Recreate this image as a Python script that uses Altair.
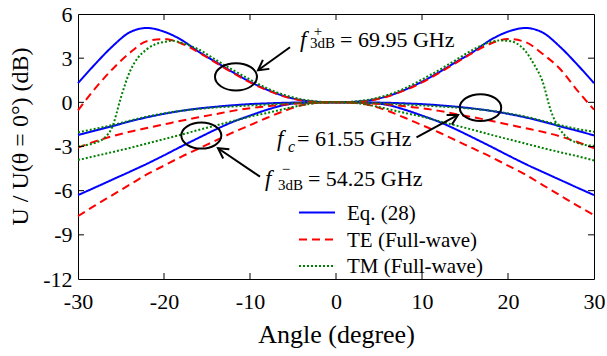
import altair as alt
import pandas as pd

# ---------------- data ----------------
ANGLES = [-30, -28, -26, -24, -22, -20, -18, -16, -14, -12, -10, -8, -6, -4, -2, 0,
          2, 4, 6, 8, 10, 12, 14, 16, 18, 20, 22, 24, 26, 28, 30]

# f+3dB = 69.95 GHz
EQ_UP = [1.3, 2.6, 3.8, 4.75, 5.05, 4.8, 4.25, 3.45, 2.75, 2.05, 1.4, 0.85, 0.42, 0.15, 0.03, 0,
         0.03, 0.15, 0.42, 0.85, 1.4, 2.05, 2.75, 3.45, 4.25, 4.8, 5.05, 4.75, 3.8, 2.6, 1.3]
TE_UP = [-0.55, 0.95, 2.25, 3.35, 4.15, 4.3, 4.0, 3.4, 2.7, 2.0, 1.35, 0.82, 0.4, 0.13, 0.02, 0,
         0.02, 0.13, 0.4, 0.82, 1.35, 2.0, 2.7, 3.4, 4.0, 4.3, 4.1, 3.3, 2.3, 0.85, -0.5]
TM_UP_ANGLES = [-30, -29, -28, -27, -26, -25, -24, -23, -22, -21, -20, -19, -18, -16, -14, -12,
                -10, -8, -6, -4, -2, 0, 2, 4, 6, 8, 10, 12, 14, 16, 18, 19, 20, 21, 22, 23, 24,
                25, 26, 27, 28, 29, 30]
TM_UP = [-3.0, -2.9, -2.75, -2.45, -1.65, 0.35, 2.05, 3.05, 3.6, 3.95, 4.1, 4.18, 4.05, 3.6, 2.9, 2.2,
         1.55, 0.95, 0.5, 0.2, 0.05, 0, 0.05, 0.2, 0.5, 0.95, 1.55, 2.2, 2.9, 3.6, 4.1, 4.2, 4.18, 4.0,
         3.5, 2.6, 1.45, -0.6, -1.8, -2.45, -2.75, -2.9, -2.95]

# fc = 61.55 GHz
EQ_C = [-2.22, -1.92, -1.62, -1.3, -1.02, -0.78, -0.58, -0.42, -0.3, -0.2, -0.12, -0.07, -0.03, -0.01, 0, 0,
        0, -0.01, -0.03, -0.07, -0.12, -0.2, -0.3, -0.42, -0.58, -0.78, -1.02, -1.3, -1.62, -1.92, -2.25]
TE_C = [-3.08, -2.65, -2.3, -2.0, -1.75, -1.5, -1.25, -1.02, -0.8, -0.58, -0.4, -0.27, -0.15, -0.07, -0.02, 0,
        -0.02, -0.07, -0.15, -0.27, -0.4, -0.58, -0.8, -1.02, -1.25, -1.5, -1.75, -2.0, -2.3, -2.68, -3.12]
TM_C = [-2.04, -1.8, -1.54, -1.25, -0.97, -0.75, -0.57, -0.45, -0.35, -0.28, -0.21, -0.15, -0.09, -0.04, -0.01, 0,
        -0.01, -0.04, -0.09, -0.15, -0.21, -0.28, -0.35, -0.45, -0.57, -0.75, -0.97, -1.25, -1.54, -1.8, -2.0]

# f-3dB = 54.25 GHz
EQ_LO = [-6.3, -5.78, -5.25, -4.72, -4.18, -3.6, -3.0, -2.42, -1.85, -1.33, -0.9, -0.5, -0.18, -0.03, 0, 0,
         0, -0.03, -0.18, -0.5, -0.9, -1.33, -1.85, -2.42, -3.0, -3.6, -4.18, -4.72, -5.25, -5.78, -6.3]
TE_LO = [-7.73, -7.0, -6.3, -5.6, -4.9, -4.3, -3.7, -3.15, -2.6, -2.05, -1.55, -1.05, -0.58, -0.2, -0.03, 0,
         -0.03, -0.2, -0.58, -1.05, -1.55, -2.05, -2.6, -3.15, -3.7, -4.3, -4.9, -5.6, -6.3, -7.0, -7.65]
TM_LO = [-3.92, -3.65, -3.38, -3.1, -2.8, -2.5, -2.2, -1.88, -1.58, -1.28, -0.97, -0.72, -0.45, -0.2, -0.03, 0,
         -0.03, -0.2, -0.45, -0.72, -0.97, -1.28, -1.58, -1.88, -2.2, -2.5, -2.8, -3.1, -3.38, -3.65, -3.95]

METHODS = ["Eq. (28)", "TE (Full-wave)", "TM (Full-wave)"]
COLORS = ["#0000ff", "#ff0000", "#008000"]
DASHES = [[1, 0], [8, 5], [2, 2]]

X_TICKS = [-30, -20, -10, 0, 10, 20, 30]
Y_TICKS = [-12, -9, -6, -3, 0, 3, 6]
X_INNER = [-20, -10, 0, 10, 20]
Y_INNER = [-9, -6, -3, 0, 3]

# annotations (data coordinates)
ANN_ITALIC = pd.DataFrame({"angle": [-4.2, -6.86, -8.26], "value": [3.74, -2.95, -5.70],
                           "text": ["f", "f", "f"]})
ANN_ITALIC_SMALL = pd.DataFrame({"angle": [-5.58], "value": [-3.36], "text": ["c"]})
ANN_BIG = pd.DataFrame({"angle": [0.47, -4.53, -3.26], "value": [3.76, -2.95, -5.70],
                        "text": ["= 69.95 GHz", "= 61.55 GHz", "= 54.25 GHz"]})
ANN_SMALL = pd.DataFrame({"angle": [-2.6, -3.02, -6.30, -6.74], "value": [4.5, 3.67, -4.84, -5.93],
                          "text": ["+", "3dB", "\u2212", "3dB"]})
ELLIPSES = pd.DataFrame({"angle": [-11.63, -15.66, 16.8], "value": [1.73, -2.26, -0.36],
                         "size": [1764, 1600, 1720]})
ARROWS = pd.DataFrame({"angle": [-5.35, -8.84, 9.36], "value": [3.74, -5.05, -2.38],
                       "angle2": [-9.07, -13.72, 14.19], "value2": [2.18, -3.12, -0.86],
                       "rot": [144.3, 214.2, 331.5]})

SERIES = {
    METHODS[0]: [("up", ANGLES, EQ_UP), ("c", ANGLES, EQ_C), ("lo", ANGLES, EQ_LO)],
    METHODS[1]: [("up", ANGLES, TE_UP), ("c", ANGLES, TE_C), ("lo", ANGLES, TE_LO)],
    METHODS[2]: [("up", TM_UP_ANGLES, TM_UP), ("c", ANGLES, TM_C), ("lo", ANGLES, TM_LO)],
}

FONT = "Liberation Serif"
W, H = 516, 265

x_scale = alt.Scale(domain=[-30, 30], nice=False, zero=False)
y_scale = alt.Scale(domain=[-12, 6], nice=False, zero=False)

x_enc = alt.X("angle:Q", scale=x_scale,
              axis=alt.Axis(values=X_TICKS, labelExpr="'' + datum.value", labelFontSize=22,
                            labelFont=FONT, titleFont=FONT, labelFlush=False,
                            labelBaseline="alphabetic", labelPadding=29, title="Angle (degree)",
                            titleFontSize=26, titleFontWeight=400, titleY=63,
                            titleBaseline="alphabetic"))
y_enc = alt.Y("value:Q", scale=y_scale,
              axis=alt.Axis(values=Y_TICKS, labelExpr="'' + datum.value", labelFontSize=22,
                            labelFont=FONT, titleFont=FONT, labelPadding=6,
                            title="U / U(\u03b8 = 0\u00b0) (dB)", titleFontSize=24,
                            titleFontWeight=400, titleX=-46, titleY=122))

layers = []
for m, col, dsh in zip(METHODS, COLORS, DASHES):
    rows = []
    for band, angs, vals in SERIES[m]:
        for a, v in zip(angs, vals):
            rows.append({"angle": a, "value": v, "band": band})
    layers.append(
        alt.Chart(pd.DataFrame(rows)).mark_line(strokeWidth=2, interpolate="monotone",
                                                color=col, strokeDash=dsh).encode(
            x=x_enc, y=y_enc, detail="band:N")
    )

# legend drawn by hand (Vega legend replaced)
LEG_ROW_Y = [198.5, 225.5, 252.0]
leg_layers = []
for m, col, dsh, ry in zip(METHODS, COLORS, DASHES, LEG_ROW_Y):
    one = pd.DataFrame({"label": [m]})
    leg_layers.append(alt.Chart(one).mark_rule(color=col, strokeWidth=2, strokeDash=dsh).encode(
        x=alt.value(221), x2=alt.value(257), y=alt.value(ry)))
    leg_layers.append(alt.Chart(one).mark_text(font=FONT, fontSize=21, align="left",
                                               baseline="middle", color="black").encode(
        x=alt.value(269), y=alt.value(ry + 1), text="label:N"))

# inward ticks on all four sides
xt = pd.DataFrame({"angle": X_INNER})
yt = pd.DataFrame({"value": Y_INNER})
tick_x_b = alt.Chart(xt).mark_rule(color="black", strokeWidth=1).encode(
    x=alt.X("angle:Q", scale=x_scale), y=alt.value(H), y2=alt.value(H - 6))
tick_x_t = alt.Chart(xt).mark_rule(color="black", strokeWidth=1).encode(
    x=alt.X("angle:Q", scale=x_scale), y=alt.value(0), y2=alt.value(6))
tick_y_l = alt.Chart(yt).mark_rule(color="black", strokeWidth=1).encode(
    y=alt.Y("value:Q", scale=y_scale), x=alt.value(0), x2=alt.value(6))
tick_y_r = alt.Chart(yt).mark_rule(color="black", strokeWidth=1).encode(
    y=alt.Y("value:Q", scale=y_scale), x=alt.value(W), x2=alt.value(W - 6))

ellipse_path = "M -1 0 A 1 0.65 0 1 1 1 0 A 1 0.65 0 1 1 -1 0 Z"
ell = alt.Chart(ELLIPSES).mark_point(shape=ellipse_path, filled=False, stroke="black",
                                     strokeWidth=2, opacity=1).encode(
    x=alt.X("angle:Q", scale=x_scale), y=alt.Y("value:Q", scale=y_scale),
    size=alt.Size("size:Q", scale=None))

arr_line = alt.Chart(ARROWS).mark_rule(color="black", strokeWidth=2).encode(
    x=alt.X("angle:Q", scale=x_scale), y=alt.Y("value:Q", scale=y_scale),
    x2="angle2:Q", y2="value2:Q")
arr_head = alt.Chart(ARROWS).mark_point(shape="M -1 -0.55 L 0 0 L -1 0.55", filled=False,
                                        stroke="black", strokeWidth=2, size=400, opacity=1).encode(
    x=alt.X("angle2:Q", scale=x_scale), y=alt.Y("value2:Q", scale=y_scale),
    angle=alt.Angle("rot:Q", scale=None))

def text_layer(data, size, italic=False):
    kw = dict(font=FONT, fontSize=size, align="left", baseline="alphabetic", color="black")
    if italic:
        kw["fontStyle"] = "italic"
    return alt.Chart(data).mark_text(**kw).encode(
        x=alt.X("angle:Q", scale=x_scale), y=alt.Y("value:Q", scale=y_scale), text="text:N")

t1 = text_layer(ANN_ITALIC, 23, True)
t2 = text_layer(ANN_ITALIC_SMALL, 16, True)
t3 = text_layer(ANN_BIG, 22)
t4 = text_layer(ANN_SMALL, 15)

chart = alt.layer(*layers, tick_x_b, tick_x_t, tick_y_l, tick_y_r, ell, arr_line, arr_head,
                  t1, t2, t3, t4, *leg_layers).properties(
    width=W, height=H, autosize=alt.AutoSizeParams(type="none"),
    padding={"left": 78, "top": 14, "right": 13, "bottom": 77}, background="white"
).configure(font=FONT).configure_view(stroke="black", strokeWidth=1).configure_axis(
    labelColor="black", titleColor="black", grid=False, domain=False, ticks=False)

chart.save("out.html", embed_options={"renderer": "svg", "actions": False})
